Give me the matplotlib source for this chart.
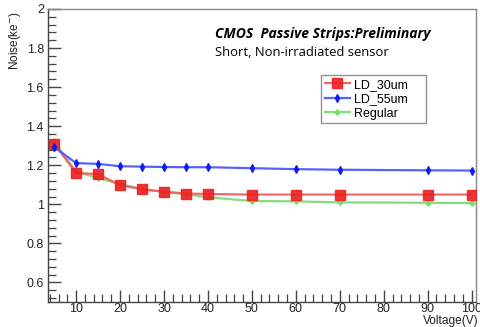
import matplotlib
matplotlib.use("Agg")
import matplotlib.pyplot as plt
from matplotlib.ticker import MultipleLocator

voltage = [5, 10, 15, 20, 25, 30, 35, 40, 50, 60, 70, 90, 100]
ld_30um = [1.31, 1.16, 1.155, 1.098, 1.077, 1.065, 1.055, 1.053, 1.05, 1.05, 1.05, 1.05, 1.05]
ld_55um = [1.293, 1.211, 1.207, 1.195, 1.193, 1.191, 1.19, 1.19, 1.185, 1.18, 1.177, 1.174, 1.173]
regular = [1.322, 1.168, 1.134, 1.105, 1.077, 1.063, 1.051, 1.036, 1.017, 1.015, 1.010, 1.008, 1.006]

plt.rcParams['font.family'] = ['Liberation Sans', 'DejaVu Sans']

fig = plt.figure(figsize=(4.8, 3.27), dpi=100)
ax = fig.add_axes([0.1, 0.0765, 0.8917, 0.896])

ax.plot(voltage, ld_30um, color=(0.95, 0.35, 0.35), lw=1.6, alpha=0.9,
        marker='s', ms=6.5, mfc=(0.92, 0.12, 0.12), mec=(0.92, 0.12, 0.12), label='LD_30um', zorder=3)
ax.plot(voltage, ld_55um, color=(0.3, 0.35, 1.0), lw=1.6, alpha=0.95,
        marker='d', ms=4, mfc=(0.05, 0.1, 0.95), mec=(0.05, 0.1, 0.95), label='LD_55um', zorder=3)
ax.plot(voltage, regular, color=(0.5, 0.85, 0.45), lw=1.6, alpha=0.95,
        marker='P', ms=3.5, mfc=(0.5, 0.85, 0.45), mec=(0.5, 0.85, 0.45), label='Regular', zorder=2)

ax.set_xlim(3.6, 101)
ax.set_ylim(0.5, 2.0)

ax.xaxis.set_minor_locator(MultipleLocator(2))
ax.yaxis.set_minor_locator(MultipleLocator(0.04))

ax.set_xticks([10, 20, 30, 40, 50, 60, 70, 80, 90, 100])
ax.set_xticklabels(['10', '20', '30', '40', '50', '60', '70', '80', '90', '100'])
ax.set_yticks([0.6, 0.8, 1.0, 1.2, 1.4, 1.6, 1.8, 2.0])
ax.set_yticklabels(['0.6', '0.8', '1', '1.2', '1.4', '1.6', '1.8', '2'])

ax.tick_params(axis='both', which='major', direction='in', length=9, width=1.0,
               color='#444444', labelsize=9, labelcolor='#222222', pad=1)
ax.tick_params(axis='y', which='major', pad=3)
ax.tick_params(axis='both', which='minor', direction='in', length=5.5, width=0.9, color='#444444')
ax.tick_params(top=False, right=False, which='both')

for side in ['left', 'bottom']:
    ax.spines[side].set_color('#444444')
    ax.spines[side].set_linewidth(1.0)
for side in ['top', 'right']:
    ax.spines[side].set_color('#888888')
    ax.spines[side].set_linewidth(1.0)

fig.text(0.998, 0.0, 'Voltage(V)', ha='right', va='bottom', fontsize=8.6, color='#222222')
fig.text(0.031, 0.965, 'Noise(ke$^{-}$)', ha='center', va='top', rotation=90, fontsize=8.5, color='#222222')

ax.text(0.39, 0.915, 'CMOS  Passive Strips:Preliminary', transform=ax.transAxes,
        va='center', fontsize=10, fontweight='bold', fontstyle='italic', family='Open Sans', color='black')
ax.text(0.39, 0.85, 'Short, Non-irradiated sensor', transform=ax.transAxes,
        va='center', fontsize=9.4, family='Open Sans', color='black')

leg = ax.legend(loc='upper left', bbox_to_anchor=(0.638, 0.607, 0.245, 0.168), mode='expand',
                borderaxespad=0, fontsize=9, frameon=True, fancybox=False, edgecolor='#777777',
                handlelength=2.0, handletextpad=0.35, borderpad=0.3, labelspacing=0.2)
leg.get_frame().set_linewidth(1.0)

fig.savefig('out.png', dpi=100)
